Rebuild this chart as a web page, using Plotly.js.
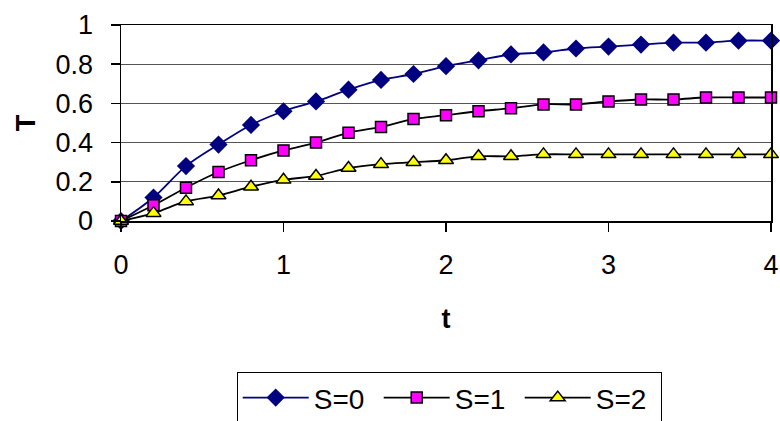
<!DOCTYPE html>
<html>
<head>
<meta charset="utf-8">
<script src="https://cdn.plot.ly/plotly-3.0.1.min.js"></script>
<style>html,body{margin:0;padding:0;background:#fff;} #chart{width:780px;height:421px;}</style>
</head>
<body>
<div id="chart"></div>
<script>
const t = [0, 0.2, 0.4, 0.6, 0.8, 1.0, 1.2, 1.4, 1.6, 1.8, 2.0, 2.2, 2.4, 2.6, 2.8, 3.0, 3.2, 3.4, 3.6, 3.8, 4.0];
const s0 = [0, 0.12, 0.28, 0.39, 0.49, 0.56, 0.61, 0.67, 0.72, 0.75, 0.79, 0.82, 0.85, 0.86, 0.88, 0.89, 0.90, 0.91, 0.91, 0.92, 0.92];
const s1 = [0, 0.08, 0.17, 0.25, 0.31, 0.36, 0.40, 0.45, 0.48, 0.52, 0.54, 0.56, 0.575, 0.595, 0.595, 0.61, 0.62, 0.62, 0.63, 0.63, 0.63];
const s2 = [0, 0.04, 0.10, 0.13, 0.175, 0.21, 0.23, 0.27, 0.29, 0.30, 0.31, 0.33, 0.33, 0.34, 0.34, 0.34, 0.34, 0.34, 0.34, 0.34, 0.34];
const seriesNames = ['S=0', 'S=1', 'S=2'];
const xTicks = [0, 1, 2, 3, 4];
const yTicks = [0, 0.2, 0.4, 0.6, 0.8, 1];

const FONT = 'Liberation Sans, Arial, sans-serif';
const traces = [
  {x: t, y: s0, name: seriesNames[0], mode: 'lines+markers', cliponaxis: false,
   line: {color: '#000080', width: 1.8, shape: 'spline'},
   marker: {symbol: 'diamond', size: 14, color: '#000080'}},
  {x: t, y: s1, name: seriesNames[1], mode: 'lines+markers', cliponaxis: false,
   line: {color: '#000000', width: 1.8, shape: 'spline'},
   marker: {symbol: 'square', size: 11, color: '#FF00FF', line: {color: '#000000', width: 1.5}}},
  {x: t, y: s2, name: seriesNames[2], mode: 'lines+markers', cliponaxis: false,
   line: {color: '#000000', width: 1.8, shape: 'spline'},
   marker: {symbol: 'triangle-up', size: 13, color: '#FFFF00', line: {color: '#000000', width: 1.5}}}
];
const layout = {
  width: 780, height: 421,
  margin: {l: 121, r: 9, t: 25, b: 200, pad: 0, autoexpand: false},
  paper_bgcolor: '#fff', plot_bgcolor: '#fff',
  font: {family: FONT, size: 27, color: '#000'},
  showlegend: true,
  xaxis: {range: [0, 4], tickvals: xTicks, ticktext: xTicks.map(String), showgrid: false, zeroline: false,
          showline: true, linecolor: '#000', linewidth: 1.5, mirror: true,
          ticks: 'outside', ticklen: 9, tickcolor: '#000', tickwidth: 1.5, ticklabelstandoff: 10,
          tickfont: {family: FONT, size: 27}, automargin: false,
          title: {text: '<b>t</b>', font: {family: FONT, size: 27}, standoff: 30}},
  yaxis: {range: [0, 1], tickvals: yTicks, ticktext: yTicks.map(String), showgrid: true, gridcolor: '#555', gridwidth: 1,
          zeroline: false, showline: true, linecolor: '#000', linewidth: 1.5, mirror: true,
          ticks: 'outside', ticklen: 9, tickcolor: '#000', tickwidth: 1.5, ticklabelstandoff: 12,
          tickfont: {family: FONT, size: 27}, automargin: false,
          title: {text: '<b>T</b>', font: {family: FONT, size: 27}, standoff: 12}},
  legend: {orientation: 'h', x: 0.178, xanchor: 'left', y: -0.77, yanchor: 'top',
           bordercolor: '#000', borderwidth: 1, bgcolor: '#fff', itemwidth: 66,
           entrywidth: 60, entrywidthmode: 'pixels',
           font: {family: FONT, size: 28}}
};
Plotly.newPlot('chart', traces, layout, {staticPlot: true});
</script>
</body>
</html>
